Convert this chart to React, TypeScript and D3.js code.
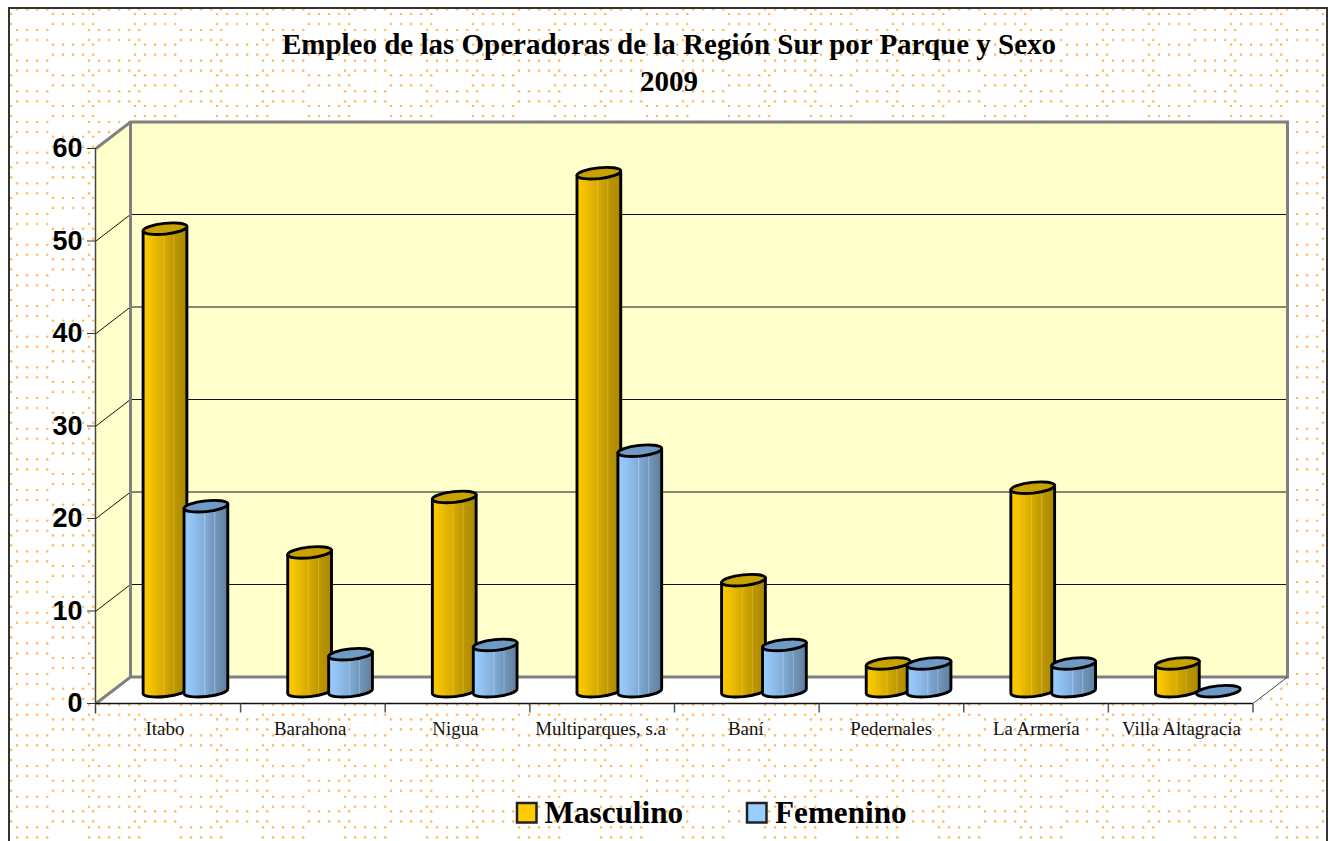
import React from 'react';
import * as d3 from 'd3';

const categories = ['Itabo', 'Barahona', 'Nigua', 'Multiparques, s.a', 'Baní', 'Pedernales', 'La Armería', 'Villa Altagracia'];
const masculino = [50, 15, 21, 56, 12, 3, 22, 3];
const femenino = [20, 4, 5, 26, 5, 3, 3, 0];
const yTicks = [0, 10, 20, 30, 40, 50, 60];
const titleLines = ['Empleo de las Operadoras de la Región Sur por Parque y Sexo', '2009'];
const seriesNames = ['Masculino', 'Femenino'];

const W = 1328, H = 841;
const frontL = 96, frontR = 1253, frontB = 703.5, frontT = 148.5;
const depthX = 34.5, depthY = -26.5;
const barDepthY = -12.3;
const rx = 22, ry = 5.4, rot = -6;
const ax = rx * Math.cos((rot * Math.PI) / 180);
const ay = rx * Math.sin((-rot * Math.PI) / 180);

const y = d3.scaleLinear().domain([0, 60]).range([frontB, frontT]);
const x = d3.scaleBand<string>().domain(categories).range([frontL, frontR]);
const labelX = d3.scalePoint<string>().domain(categories).range([165, 1181.5]);

const clusterA: [number, number][] = [[217, 6], [309, 5], [391, 5], [473, 5]];
const clusterB: [number, number][] = [[89, 6], [181, 5], [263, 5], [345, 5]];
const periodX = 338, periodY = 30.67, dotStep = 10.05;

function dotPositions() {
  const out: [number, number][] = [];
  const rows: [number, [number, number][]][] = [[14, clusterA], [24, clusterA], [30, clusterB], [40, clusterB]];
  for (let k = -1; k * periodY < H; k++) {
    for (const [ry0, cl] of rows) {
      const yy = ry0 + k * periodY;
      for (let t = -2; t < 6; t++) {
        for (const [s, n] of cl) {
          for (let i = 0; i < n; i++) {
            const xx = s + t * periodX + i * dotStep;
            if (xx > 9 && xx < W && yy > 9 && yy < H) out.push([xx, yy]);
          }
        }
      }
    }
  }
  return out;
}
const dots = dotPositions();

function Cylinder({ cx, v, grad, top }: { cx: number; v: number; grad: string; top: string }) {
  const base = y(0) + barDepthY;
  const t = y(v) + barDepthY;
  const rotS = `${rot}`;
  const body = `M${cx - ax},${t + ay} L${cx - ax},${base + ay} A${rx},${ry} ${rotS} 0 0 ${cx + ax},${base - ay} L${cx + ax},${t - ay} Z`;
  return (
    <g stroke="#000" strokeWidth={2.9}>
      {v > 0 && <path d={body} fill={`url(#${grad})`} strokeLinejoin="round" />}
      <ellipse cx={cx} cy={t} rx={rx} ry={ry} transform={`rotate(${rot} ${cx} ${t})`} fill={top} />
    </g>
  );
}

const gridColor = '#111';
const wallGray = '#808080';

export default function App() {
  const bw = x.bandwidth();
  const mascX = (c: string) => (x(c) as number) + bw * 0.477;
  const femX = (c: string) => (x(c) as number) + bw * 0.76;
  return (
    <svg width={W} height={H} viewBox={`0 0 ${W} ${H}`} style={{ position: 'fixed', left: 0, top: 0, background: '#fff' }}>
      <defs>
        <linearGradient id="gMasc" x1="0" x2="1" y1="0" y2="0">
          <stop offset="0" stopColor="#FFCC00" />
          <stop offset="0.2" stopColor="#F0C000" />
          <stop offset="0.45" stopColor="#D8AC00" />
          <stop offset="0.47" stopColor="#E2BC2A" />
          <stop offset="0.5" stopColor="#D4A900" />
          <stop offset="0.68" stopColor="#C09A00" />
          <stop offset="0.7" stopColor="#D0AE30" />
          <stop offset="0.73" stopColor="#BC9600" />
          <stop offset="1" stopColor="#A88800" />
        </linearGradient>
        <linearGradient id="gFem" x1="0" x2="1" y1="0" y2="0">
          <stop offset="0" stopColor="#99CCFF" />
          <stop offset="0.2" stopColor="#92C2F2" />
          <stop offset="0.45" stopColor="#82ADDA" />
          <stop offset="0.47" stopColor="#A2C4E6" />
          <stop offset="0.5" stopColor="#7FA8D3" />
          <stop offset="0.68" stopColor="#7398BE" />
          <stop offset="0.7" stopColor="#94B2D0" />
          <stop offset="0.73" stopColor="#7094B8" />
          <stop offset="1" stopColor="#5F7F9F" />
        </linearGradient>
      </defs>

      <g fill="#FFBE66">
        {dots.map(([a, b], i) => (
          <circle key={i} cx={a} cy={b} r={1.3} />
        ))}
      </g>

      <path d={`M9,860 L9,8 L1327,8 L1327,860`} fill="none" stroke="#333" strokeWidth={2} />

      {/* walls */}
      <polygon
        points={`${frontL},${y(60)} ${frontL + depthX},${y(60) + depthY} ${frontL + depthX},${y(0) + depthY} ${frontL},${y(0)}`}
        fill="#FFFFCC"
      />
      <rect x={frontL + depthX} y={y(60) + depthY} width={frontR - frontL} height={y(0) - y(60)} fill="#FFFFCC" />
      <polygon
        points={`${frontL},${y(0)} ${frontL + depthX},${y(0) + depthY} ${frontR + depthX},${y(0) + depthY} ${frontR},${y(0)}`}
        fill="#fff"
      />

      {yTicks.filter(t => t > 0 && t < 60).map(t => (
        <g key={t} stroke={gridColor} strokeWidth={1}>
          <line x1={frontL} y1={y(t)} x2={frontL + depthX} y2={y(t) + depthY} />
          <line x1={frontL + depthX} y1={y(t) + depthY} x2={frontR + depthX} y2={y(t) + depthY} />
        </g>
      ))}

      <path
        d={`M${frontL},${y(0)} L${frontL + depthX},${y(0) + depthY} L${frontR + depthX},${y(0) + depthY} L${frontR + depthX},${y(60) + depthY} L${frontL + depthX},${y(60) + depthY} L${frontL},${y(60)} M${frontL + depthX},${y(60) + depthY} L${frontL + depthX},${y(0) + depthY}`}
        fill="none"
        stroke={wallGray}
        strokeWidth={3}
      />
      <line x1={frontR} y1={y(0)} x2={frontR + depthX} y2={y(0) + depthY} stroke="#444" strokeWidth={1} />

      {/* axes */}
      <line x1={frontL - 0.5} y1={y(60)} x2={frontL - 0.5} y2={y(0) + 10} stroke="#444" strokeWidth={1.5} />
      <line x1={frontL} y1={y(0)} x2={frontR} y2={y(0)} stroke="#111" strokeWidth={1.5} />
      {yTicks.map(t => (
        <g key={t}>
          <line x1={frontL - 9} y1={y(t)} x2={frontL} y2={y(t)} stroke="#333" strokeWidth={1} />
          <text
            x={82.5}
            y={y(t) - 1}
            dy="0.36em"
            textAnchor="end"
            fontFamily="Liberation Sans"
            fontWeight="bold"
            fontSize={27}
            fill="#000"
          >
            {t}
          </text>
        </g>
      ))}
      {categories.map(c => (
        <line key={c} x1={(x(c) as number) + bw} y1={y(0)} x2={(x(c) as number) + bw} y2={y(0) + 9} stroke="#555" strokeWidth={1.5} />
      ))}
      {categories.map(c => (
        <text
          key={c}
          x={labelX(c) as number}
          y={735}
          textAnchor="middle"
          fontFamily="Liberation Serif"
          fontSize={18.9}
          fill="#111"
        >
          {c}
        </text>
      ))}

      {/* bars */}
      {categories.map((c, i) => (
        <g key={c}>
          <Cylinder cx={mascX(c)} v={masculino[i]} grad="gMasc" top="#C9A200" />
          <Cylinder cx={femX(c)} v={femenino[i]} grad="gFem" top="#6F9AC6" />
        </g>
      ))}

      {/* title */}
      {titleLines.map((l, i) => (
        <text
          key={l}
          x={669}
          y={54 + i * 37}
          textAnchor="middle"
          fontFamily="Liberation Serif"
          fontWeight="bold"
          fontSize={29}
          fill="#000"
        >
          {l}
        </text>
      ))}

      {/* legend */}
      {seriesNames.map((n, i) => {
        const sx = [517, 747][i];
        const tx = [544.5, 775][i];
        return (
          <g key={n}>
            <rect x={sx} y={803} width={19.5} height={19.5} fill={['#FFCC00', '#99CCFF'][i]} stroke="#222" strokeWidth={2.5} />
            <text x={tx} y={823} fontFamily="Liberation Serif" fontWeight="bold" fontSize={31.2} fill="#000">
              {n}
            </text>
          </g>
        );
      })}
    </svg>
  );
}
